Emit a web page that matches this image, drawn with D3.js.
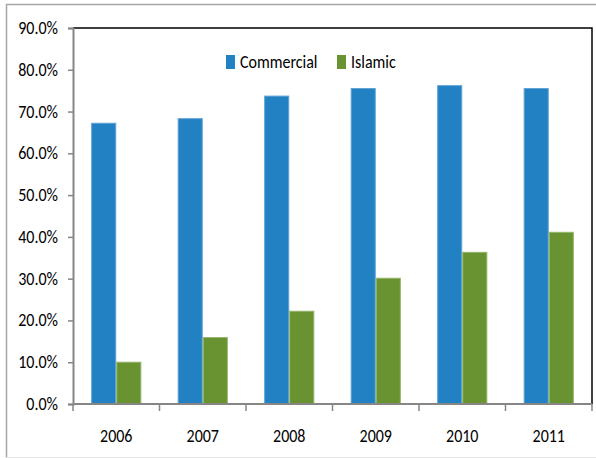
<!DOCTYPE html>
<html>
<head>
<meta charset="utf-8">
<script src="https://cdn.jsdelivr.net/npm/d3@7"></script>
<style>
  body { margin: 0; background: #fff; }
  text { font-family: Carlito, Calibri, Lato, "Open Sans", sans-serif; fill: #000; }
</style>
</head>
<body>
<svg></svg>
<script>
// chart values
var years = ["2006", "2007", "2008", "2009", "2010", "2011"];
var commercial = [67.2, 68.3, 73.7, 75.5, 76.2, 75.5];
var islamic = [10.0, 15.9, 22.2, 30.1, 36.3, 41.1];
var seriesNames = ["Commercial", "Islamic"];
var yTicks = [0, 10, 20, 30, 40, 50, 60, 70, 80, 90];

var colors = { Commercial: "#2281c2", Islamic: "#699331" };
var edges = { Commercial: "#5fa2d6", Islamic: "#93b56a" };

var width = 596, height = 458;
var plotLeft = 73, plotRight = 592, plotTop = 28, plotBottom = 404;
var stretch = 1.2;   // reference text looks vertically stretched

var svg = d3.select("svg").attr("width", width).attr("height", height);

// outer chart border
svg.append("path")
   .attr("d", "M6.5,458 V4.5 H596")
   .attr("fill", "none")
   .attr("stroke", "#a6a6a6")
   .attr("stroke-width", 1.5);
svg.append("line")
   .attr("x1", 6).attr("x2", 596).attr("y1", 457.5).attr("y2", 457.5)
   .attr("stroke", "#e6e6e6");

var x = d3.scaleBand().domain(years).range([plotLeft, plotRight]);
var y = d3.scaleLinear().domain([0, 90]).range([plotBottom, plotTop]);

// plot frame top/right
svg.append("path")
   .attr("d", `M${plotLeft},${plotTop} H${plotRight} V${plotBottom}`)
   .attr("fill", "none")
   .attr("stroke", "#000")
   .attr("stroke-width", 1.5);

var table = years.map((yr, i) => ({ year: yr, Commercial: commercial[i], Islamic: islamic[i] }));

var barW = x.bandwidth() * 0.29;
var inner = d3.scaleBand().domain(seriesNames).range([0, barW * 2]);
var off = (x.bandwidth() - barW * 2) / 2;

var groups = svg.append("g").selectAll("g")
  .data(table).enter().append("g")
  .attr("transform", d => `translate(${x(d.year) + off},0)`);

groups.selectAll("rect")
  .data(d => seriesNames.map(s => ({ key: s, value: d[s] })))
  .enter().append("rect")
    .attr("x", d => inner(d.key) + 0.5)
    .attr("y", d => y(d.value))
    .attr("width", inner.bandwidth() - 1)
    .attr("height", d => plotBottom - y(d.value))
    .attr("fill", d => colors[d.key])
    .attr("stroke", d => edges[d.key])
    .attr("stroke-width", 1);

// y axis
var yAxis = svg.append("g")
  .attr("transform", `translate(${plotLeft},0)`)
  .call(d3.axisLeft(y).tickValues(yTicks).tickSize(5).tickPadding(10)
          .tickFormat(d => d.toFixed(1) + "%"));
yAxis.select(".domain").attr("stroke", "#868686").attr("stroke-width", 2);
yAxis.selectAll(".tick line").attr("stroke", "#868686").attr("stroke-width", 1.5);
yAxis.selectAll("text").attr("font-size", 16).attr("fill", "#000")
     .attr("font-family", "Carlito, Calibri, Lato, sans-serif")
     .attr("dy", null)
     .attr("y", 5.5 / stretch)
     .attr("transform", `scale(1,${stretch})`);

// x axis with ticks on band edges
var xAxis = svg.append("g").attr("transform", `translate(0,${plotBottom})`);
xAxis.append("line")
  .attr("x1", plotLeft).attr("x2", plotRight).attr("y1", 0).attr("y2", 0)
  .attr("stroke", "#868686").attr("stroke-width", 2);
xAxis.selectAll(".edge")
  .data(years.concat(["end"])).enter().append("line")
  .attr("x1", (d, i) => i < years.length ? x(d) : plotRight)
  .attr("x2", (d, i) => i < years.length ? x(d) : plotRight)
  .attr("y1", 0).attr("y2", 7)
  .attr("stroke", "#868686").attr("stroke-width", 1.5);
xAxis.selectAll(".lbl")
  .data(years).enter().append("text")
  .attr("transform", d => `translate(${x(d) + x.bandwidth() / 2},38) scale(1,${stretch})`)
  .attr("text-anchor", "middle")
  .attr("font-size", 16)
  .text(d => d);

// legend
var legend = svg.append("g");
var legendPos = [{ key: "Commercial", x: 226 }, { key: "Islamic", x: 337 }];
legendPos.forEach(l => {
  legend.append("rect")
    .attr("x", l.x).attr("y", 55).attr("width", 9).attr("height", 14)
    .attr("fill", colors[l.key]);
  legend.append("text")
    .attr("transform", `translate(${l.x + 14},68) scale(1,${stretch})`)
    .attr("font-size", 16)
    .text(l.key);
});
</script>
</body>
</html>
